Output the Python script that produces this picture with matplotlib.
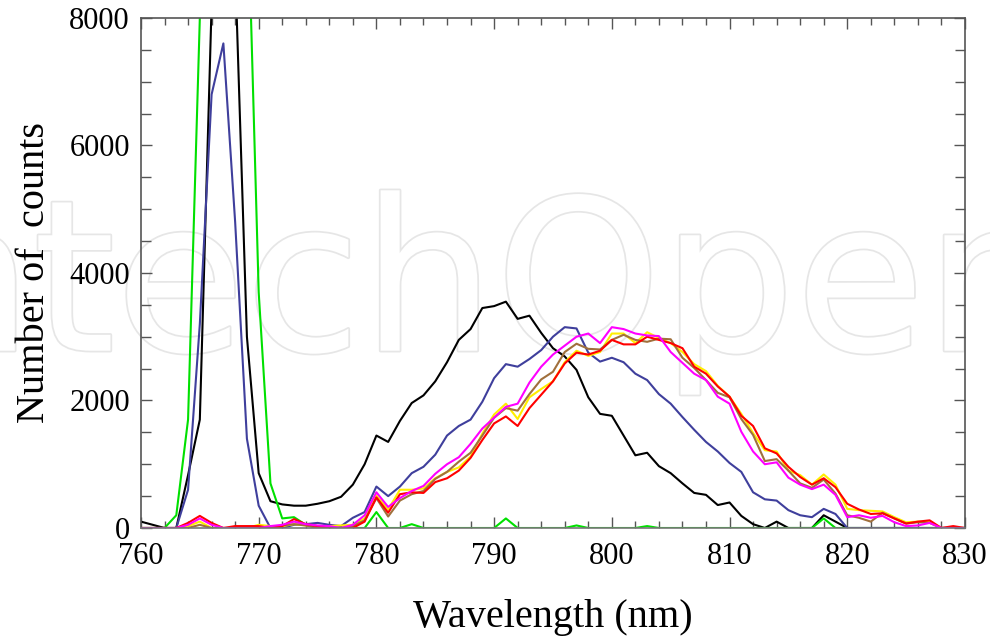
import numpy as np
import matplotlib
matplotlib.use("Agg")
import matplotlib.pyplot as plt
from matplotlib.ticker import MultipleLocator
import matplotlib.patheffects as pe

# wavelength grid (nm), one reading per nm
wl = np.arange(760, 831)

black = [100, 50, 0, 0, 830, 1700, 8200, 12000, 8800, 3000,
         860, 420, 370, 350, 350, 380, 420, 490, 680, 1000,
         1450, 1350, 1680, 1960, 2080, 2300, 2600, 2950, 3120, 3450,
         3480, 3550, 3280, 3330, 3060, 2820, 2690, 2480, 2050, 1790,
         1760, 1450, 1140, 1180, 970, 860, 700, 550, 520, 360,
         400, 190, 60, 0, 100, 0, 0, 0, 200, 100,
         0, 0, 0, 0, 0, 0, 0, 0, 0, 0, 0]

green = [0, 0, 0, 200, 1700, 8000, 15000, 16000, 15000, 10300,
         3700, 700, 150, 170, 50, 0, 0, 0, 0, 0,
         250, 0, 0, 60, 0, 0, 0, 0, 0, 0,
         0, 150, 0, 0, 0, 0, 0, 40, 0, 0,
         0, 0, 0, 30, 0, 0, 0, 0, 0, 0,
         0, 0, 0, 0, 0, 0, 0, 0, 150, 0,
         0, 0, 0, 0, 0, 0, 0, 0, 0, 0, 0]

blue = [0, 0, 0, 0, 600, 3200, 6800, 7600, 4800, 1400,
        350, 0, 0, 50, 60, 80, 50, 30, 160, 250,
        650, 500, 650, 860, 960, 1150, 1450, 1600, 1700, 1980,
        2350, 2570, 2530, 2650, 2790, 3000, 3150, 3130, 2750, 2610,
        2670, 2600, 2420, 2320, 2100, 1950, 1740, 1540, 1350, 1200,
        1020, 880, 560, 450, 430, 280, 200, 170, 300, 220,
        0, 0, 0, 0, 0, 0, 0, 0, 0, 0, 0]

yellow = [0, 0, 0, 0, 30, 100, 0, 0, 0, 0,
          50, 30, 30, 60, 40, 20, 30, 40, 50, 150,
          510, 290, 600, 600, 620, 780, 880, 950, 1120, 1480,
          1780, 1950, 1710, 2050, 2180, 2300, 2600, 2780, 2700, 2760,
          3050, 3050, 2900, 3070, 2980, 2900, 2760, 2570, 2460, 2230,
          2060, 1790, 1490, 1220, 1200, 900, 830, 680, 840, 680,
          300, 280, 270, 260, 170, 90, 100, 90, 0, 0, 0]

brown = [0, 0, 0, 0, 0, 50, 0, 0, 0, 0,
         0, 0, 40, 60, 40, 0, 0, 0, 30, 120,
         470, 180, 430, 530, 580, 770, 880, 1040, 1180, 1450,
         1730, 1880, 1840, 2100, 2330, 2450, 2760, 2890, 2810, 2800,
         2950, 3030, 2950, 2920, 2970, 2960, 2670, 2510, 2320, 2120,
         2050, 1710, 1460, 1050, 1080, 900, 700, 630, 760, 540,
         200, 160, 100, 240, 150, 70, 90, 80, 0, 0, 0]

red = [0, 0, 0, 0, 80, 190, 80, 0, 30, 30,
       30, 0, 30, 140, 60, 30, 0, 0, 0, 100,
       480, 240, 530, 560, 550, 720, 780, 900, 1100, 1380,
       1640, 1750, 1600, 1880, 2090, 2300, 2580, 2750, 2720, 2780,
       2950, 2880, 2880, 3000, 2950, 2900, 2820, 2530, 2420, 2220,
       2060, 1760, 1600, 1250, 1170, 960, 800, 680, 780, 640,
       380, 290, 220, 230, 150, 70, 100, 120, 0, 30, 0]

magenta = [0, 0, 0, 0, 50, 150, 50, 0, 0, 0,
           0, 30, 50, 100, 60, 40, 30, 0, 50, 200,
           560, 330, 470, 580, 660, 850, 1000, 1110, 1320, 1560,
           1730, 1900, 1950, 2280, 2530, 2720, 2860, 3000, 3050, 2900,
           3150, 3120, 3050, 3020, 3010, 2760, 2590, 2420, 2320, 2060,
           1950, 1510, 1200, 1000, 1030, 790, 680, 610, 680, 520,
           170, 200, 160, 190, 90, 30, 40, 80, 0, 0, 0]

plt.rcParams['font.family'] = ['Liberation Serif', 'DejaVu Serif']

fig = plt.figure(figsize=(9.9, 6.4), dpi=100)
ax = fig.add_axes([0.1424, 0.175, 0.8323, 0.797])
ax.patch.set_alpha(0)

# faint watermark behind the plot
fig.text(-0.165, 0.452, "IntechOpen", fontsize=152, family='DejaVu Sans',
         color='white', zorder=-5,
         path_effects=[pe.withStroke(linewidth=2.5, foreground='#e6e6e6')])

lw = 1.5
ax.plot(wl, black, color='black', lw=lw)
ax.plot(wl, green, color='#00e000', lw=lw)
ax.plot(wl, blue, color='#3f3f9c', lw=lw)
ax.plot(wl, yellow, color='#ffee00', lw=lw)
ax.plot(wl, brown, color='#a0703c', lw=lw)
ax.plot(wl, red, color='#ff0000', lw=lw)
ax.plot(wl, magenta, color='#ff00ff', lw=lw)

ax.set_xlim(760, 830)
ax.set_ylim(0, 8000)
ax.xaxis.set_major_locator(MultipleLocator(10))
ax.xaxis.set_minor_locator(MultipleLocator(2))
ax.yaxis.set_major_locator(MultipleLocator(2000))
ax.yaxis.set_minor_locator(MultipleLocator(500))

for s in ax.spines.values():
    s.set_color('#555555')
    s.set_linewidth(1.2)
ax.spines['bottom'].set_color('#777777')

ax.tick_params(which='both', direction='in', top=True, right=True,
               color='#555555', width=1.0, labelsize=22, pad=8)
ax.tick_params(axis='x', which='both', pad=10)
ax.tick_params(which='major', length=8)
ax.tick_params(which='minor', length=5)
ax.tick_params(axis='y', which='minor', length=7)

ax.set_xlabel('Wavelength (nm)', fontsize=29, labelpad=20)
ax.set_ylabel('Number of  counts', fontsize=29, labelpad=12)

fig.savefig('out.png', dpi=100)
